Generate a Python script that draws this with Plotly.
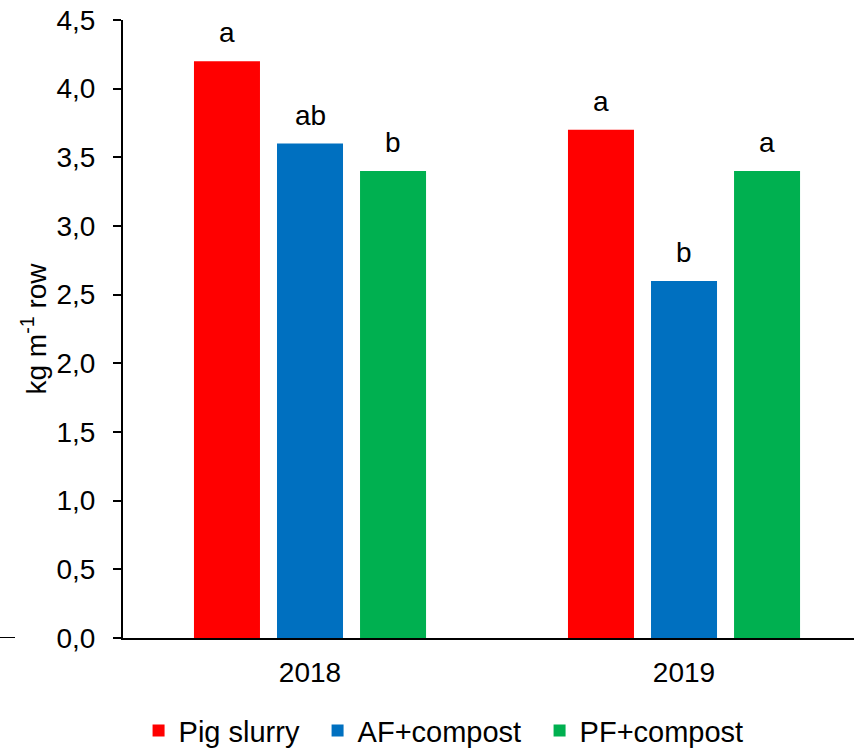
import plotly.graph_objects as go

# Yield per metre of row for each fertilisation treatment
years = ["2018", "2019"]
treatments = ["Pig slurry", "AF+compost", "PF+compost"]
pig_slurry = [4.2, 3.7]
af_compost = [3.6, 2.6]
pf_compost = [3.4, 3.4]
# Significance letters (same order as the value lists)
letters_pig = ["a", "a"]
letters_af = ["ab", "b"]
letters_pf = ["b", "a"]

y_ticks = [0, 0.5, 1.0, 1.5, 2.0, 2.5, 3.0, 3.5, 4.0, 4.5]
y_tick_text = ["0,0", "0,5", "1,0", "1,5", "2,0", "2,5", "3,0", "3,5", "4,0", "4,5"]

colors = ["#FF0000", "#0070C0", "#00B050"]
legend_widths = [134, 177, 177]
series = [pig_slurry, af_compost, pf_compost]
letters = [letters_pig, letters_af, letters_pf]

FONT = "Liberation Sans, Arial, sans-serif"
FS = 28
BARGAP = 0.334
BARGROUPGAP = 0.205

fig = go.Figure()
for name, vals, col, lw in zip(treatments, series, colors, legend_widths):
    fig.add_trace(go.Bar(
        x=years, y=vals, name=name, legendwidth=lw,
        marker=dict(color=col, line=dict(width=0)),
    ))

# Letters above each bar, placed at the centre of its slot within the group
slot = (1 - BARGAP) / len(treatments)
annotations = []
for i, (vals, labs) in enumerate(zip(series, letters)):
    offset = (i - (len(treatments) - 1) / 2) * slot
    for j, (v, lab) in enumerate(zip(vals, labs)):
        annotations.append(dict(
            x=j + offset, y=v, xref="x", yref="y", text=lab,
            showarrow=False, yanchor="bottom", yshift=11,
            font=dict(family=FONT, size=FS, color="black"),
        ))

fig.update_layout(
    width=854, height=749,
    margin=dict(l=123, r=0, t=20, b=111, autoexpand=False),
    paper_bgcolor="white", plot_bgcolor="white",
    barmode="group", bargap=BARGAP, bargroupgap=BARGROUPGAP,
    font=dict(family=FONT, size=FS, color="black"),
    showlegend=True,
    legend=dict(
        orientation="h", x=0.0213, xanchor="left", y=-0.15, yanchor="middle",
        font=dict(family=FONT, size=29, color="black"),
        itemwidth=30, traceorder="normal",
    ),
    annotations=annotations,
    shapes=[dict(type="line", xref="paper", yref="y",
                 x0=-123 / 731, x1=-108 / 731, y0=0, y1=0,
                 line=dict(color="black", width=2))],
)

fig.update_xaxes(
    type="category", range=[-0.5, 1.4545],
    showline=True, linecolor="black", linewidth=2,
    ticks="", showgrid=False, zeroline=False,
    tickfont=dict(family=FONT, size=FS, color="black"),
    ticklabelstandoff=8,
)
fig.update_yaxes(
    range=[0, 4.5], tickvals=y_ticks, ticktext=y_tick_text,
    showline=True, linecolor="black", linewidth=2,
    ticks="outside", ticklen=8, tickwidth=2, tickcolor="black",
    showgrid=False, zeroline=False,
    tickfont=dict(family=FONT, size=FS, color="black"),
    ticklabelstandoff=12,
    title=dict(text="kg m<sup>-1</sup> row", standoff=2,
               font=dict(family=FONT, size=FS, color="black")),
)

fig.write_html("out.html")
